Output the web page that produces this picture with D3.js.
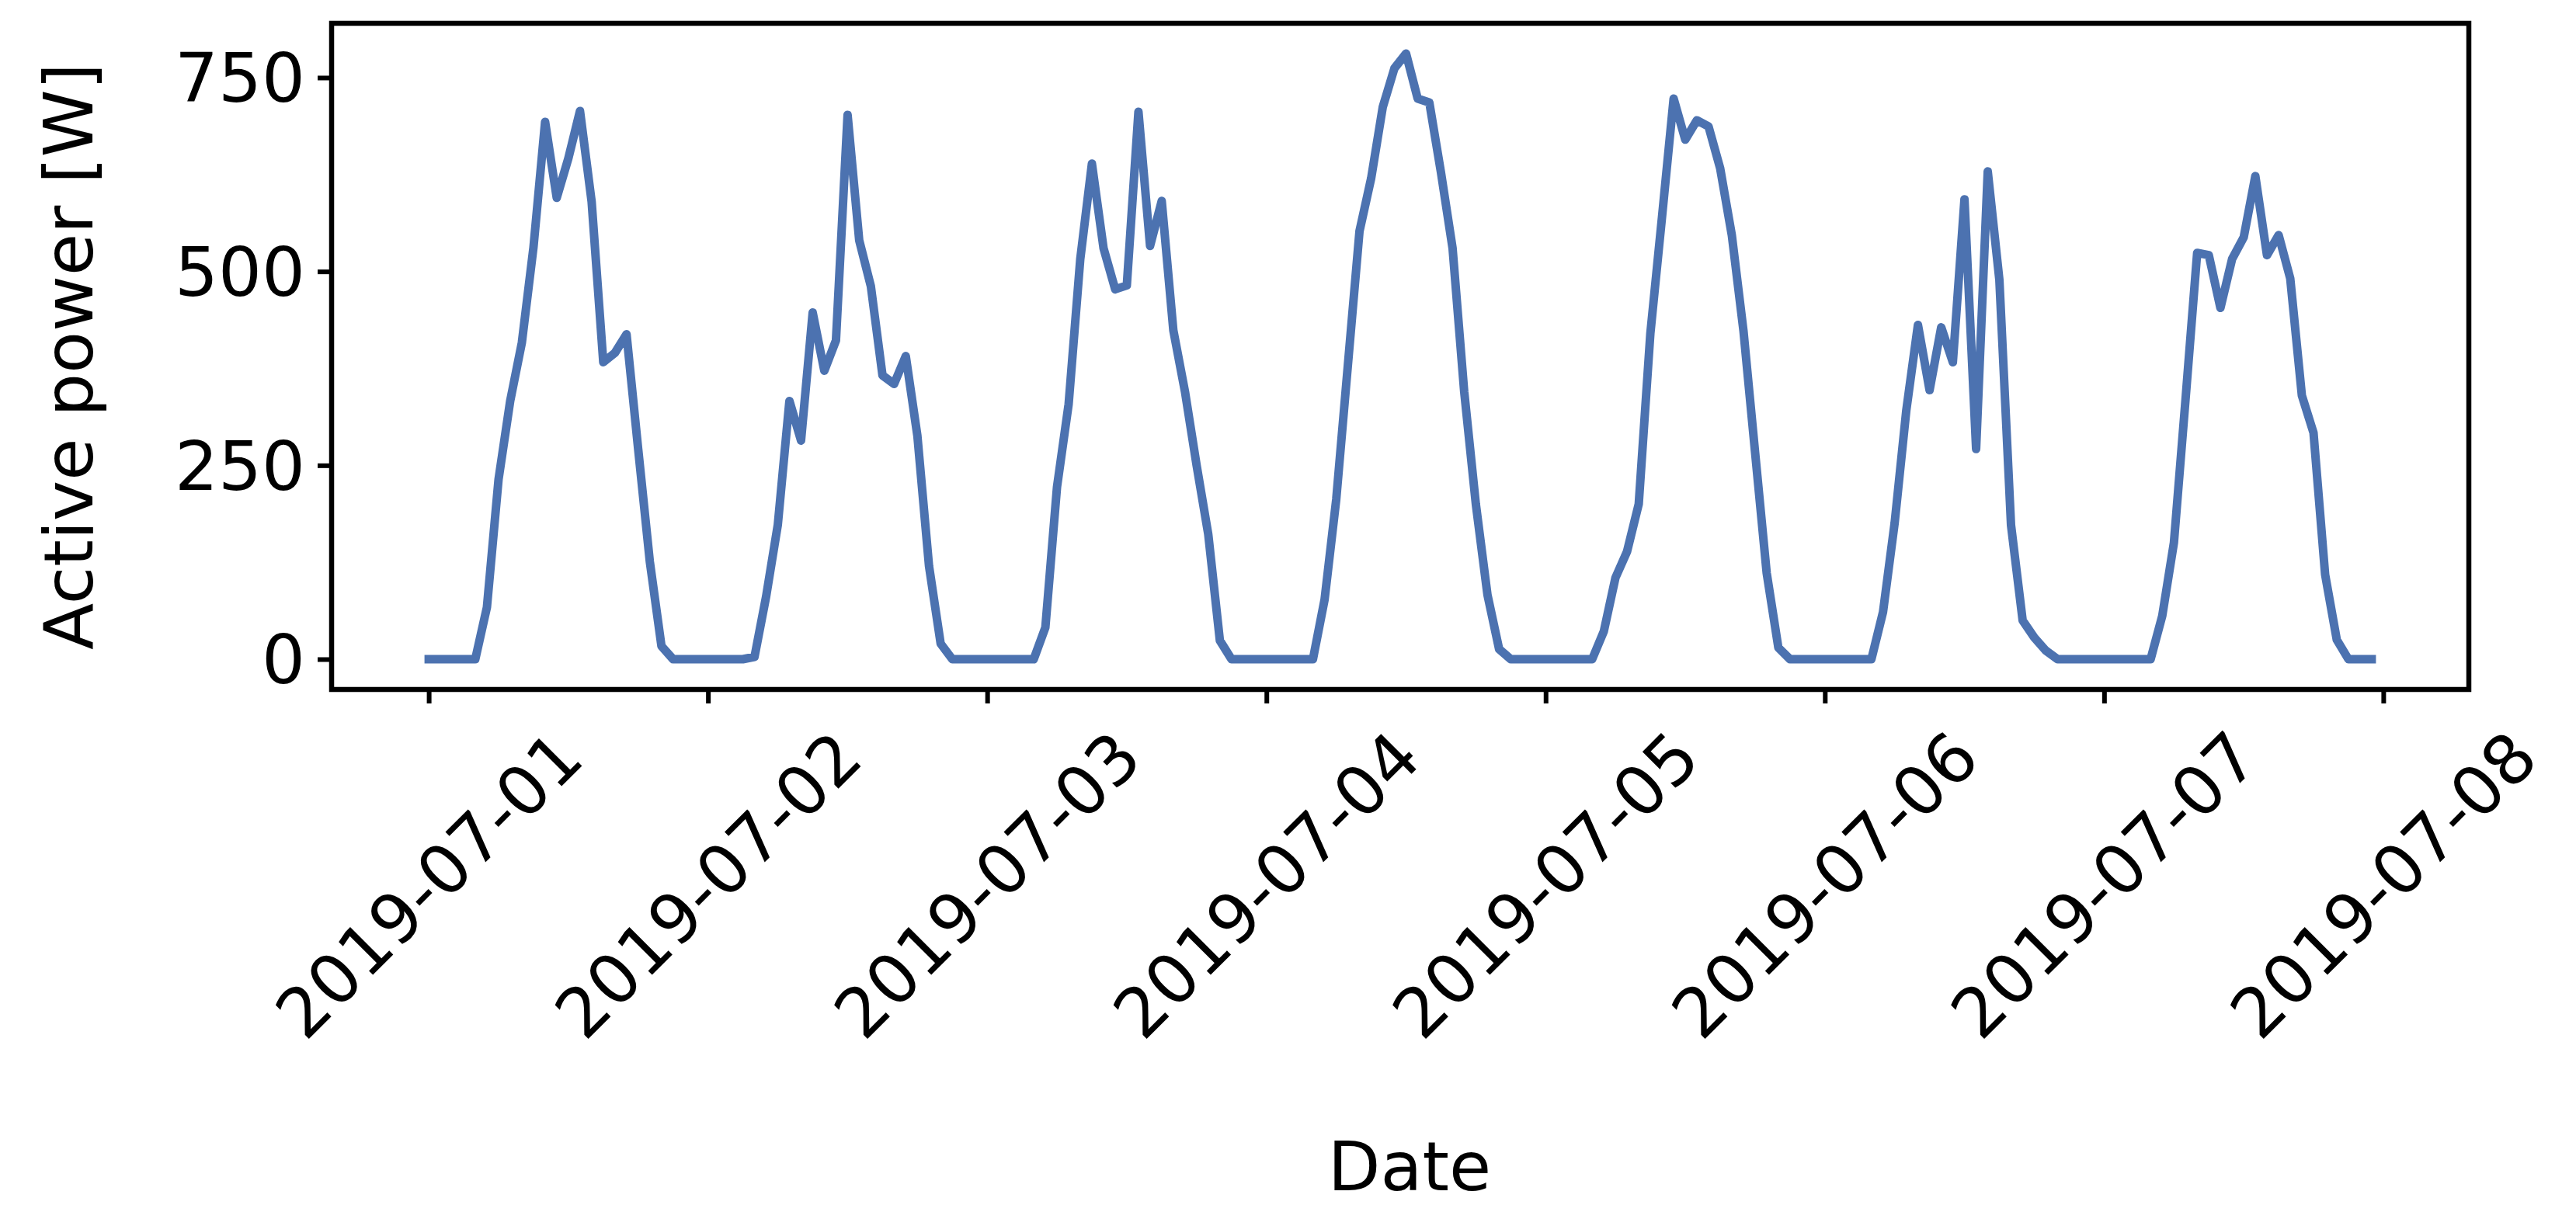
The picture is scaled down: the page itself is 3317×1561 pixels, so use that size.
<!DOCTYPE html>
<html><head><meta charset="utf-8">
<script src="https://cdn.jsdelivr.net/npm/d3@7"></script>
<style>body{margin:0;background:#fff}svg{display:block}text{font-family:"DejaVu Sans";fill:#000}</style>
</head><body><svg id="c" width="3317" height="1561"></svg>
<script>
// hourly active power [W], 2019-07-01 00:00 .. 2019-07-07 23:00
const day1 = [0,0,0,0,0,67,232,333,408,531,693,595,646,707,590,383,395,419,271,126,17,0,0,0];
const day2 = [0,0,0,0,3,81,173,333,282,447,372,411,702,540,481,366,355,391,288,120,20,0,0,0];
const day3 = [0,0,0,0,0,41,222,329,516,639,530,477,482,706,533,591,424,345,250,161,24,0,0,0];
const day4 = [0,0,0,0,0,77,206,379,552,620,712,762,781,723,718,628,530,345,200,83,13,0,0,0];
const day5 = [0,0,0,0,0,36,105,139,200,420,570,723,670,695,687,633,547,424,267,111,15,0,0,0];
const day6 = [0,0,0,0,0,61,176,321,431,347,428,383,593,271,629,489,173,50,28,11,0,0,0,0];
const day7 = [0,0,0,0,0,56,150,335,524,521,453,516,544,623,521,547,491,340,292,109,25,0,0,0];
const tickLabels = ["2019-07-01","2019-07-02","2019-07-03","2019-07-04","2019-07-05","2019-07-06","2019-07-07","2019-07-08"];
const yTicks = [0,250,500,750];

const values = [].concat(day1,day2,day3,day4,day5,day6,day7);
const start = new Date(2019,6,1);
const data = values.map((v,i)=>({t:new Date(start.getTime()+i*3600e3), v}));

const L=427,R=3179,T=30,B=888;
const svg=d3.select("#c");
const x=d3.scaleTime().domain([new Date(start.getTime()-8.35*3600e3), new Date(start.getTime()+175.35*3600e3)]).range([L,R]);
const y=d3.scaleLinear().domain([-39.05,820.05]).range([B,T]);

svg.append("path").datum(data).attr("fill","none").attr("stroke","#4c72b0")
  .attr("stroke-width",11).attr("stroke-linejoin","round").attr("stroke-linecap","square")
  .attr("d",d3.line().x(d=>x(d.t)).y(d=>y(d.v)));

svg.append("rect").attr("x",L).attr("y",T).attr("width",R-L).attr("height",B-T)
  .attr("fill","none").attr("stroke","#000").attr("stroke-width",6.5);

const dates = tickLabels.map(s=>{const p=s.split("-");return new Date(+p[0],+p[1]-1,+p[2]);});
const xa=svg.append("g").attr("transform",`translate(0,${B})`)
  .call(d3.axisBottom(x).tickValues(dates).tickSize(18).tickFormat((d,i)=>tickLabels[i]));
xa.select(".domain").remove();
xa.selectAll("line").attr("stroke","#000").attr("stroke-width",6);
xa.selectAll("text").attr("font-size",88).attr("text-anchor","middle").attr("dominant-baseline","central")
  .attr("y",0).attr("dy",null).attr("transform","translate(0,252) rotate(-45)");

const ya=svg.append("g").attr("transform",`translate(${L},0)`)
  .call(d3.axisLeft(y).tickValues(yTicks).tickSize(18).tickPadding(16));
ya.select(".domain").remove();
ya.selectAll("line").attr("stroke","#000").attr("stroke-width",6);
ya.selectAll("text").attr("font-size",88).attr("dy","0.35em");

svg.append("text").attr("x",1815).attr("y",1502).attr("text-anchor","middle").attr("dominant-baseline","central")
  .attr("font-size",88).text("Date");
svg.append("text").attr("transform","translate(88,459) rotate(-90)").attr("text-anchor","middle")
  .attr("dominant-baseline","central").attr("font-size",88).text("Active power [W]");
</script></body></html>
